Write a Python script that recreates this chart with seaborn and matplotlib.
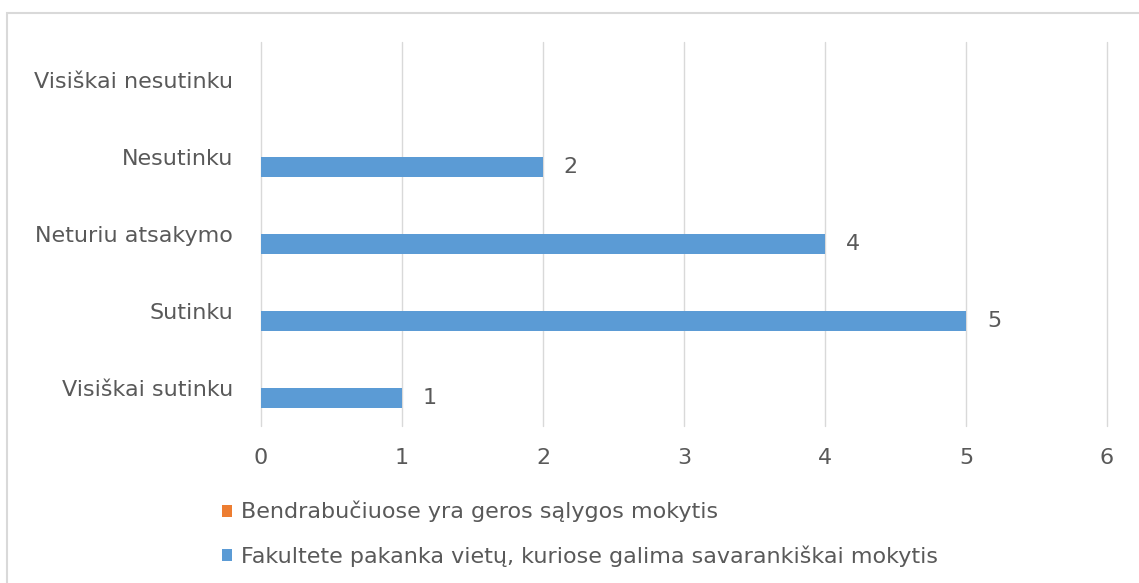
import matplotlib
matplotlib.use("Agg")
import matplotlib.pyplot as plt
import matplotlib.patches as mpatches
import seaborn as sns
import pandas as pd
import numpy as np

# categories top to bottom
categories = ["Visiškai nesutinku", "Nesutinku", "Neturiu atsakymo", "Sutinku", "Visiškai sutinku"]
series_names = ["Bendrabučiuose yra geros sąlygos mokytis",
                "Fakultete pakanka vietų, kuriose galima savarankiškai mokytis"]
bendrabutis = [0, 0, 0, 0, 0]          # empty series
fakultetas = [np.nan, 2, 4, 5, 1]
x_ticks = [0, 1, 2, 3, 4, 5, 6]

colors = ["#ED7D31", "#5B9BD5"]
text_color = "#595959"
grid_color = "#D9D9D9"
fs = 16

df = pd.DataFrame({
    "kategorija": categories * 2,
    "serija": [series_names[0]] * len(categories) + [series_names[1]] * len(categories),
    "reiksme": bendrabutis + fakultetas,
})
df["reiksme"] = df["reiksme"].fillna(0)

sns.set_style("white")
plt.rcParams["font.family"] = ["DejaVu Sans"]

fig = plt.figure(figsize=(11.39, 5.83), dpi=100)
ax = fig.add_axes([261 / 1139, 1 - 426 / 583, (1107 - 261) / 1139, (426 - 42) / 583])

sns.barplot(data=df, x="reiksme", y="kategorija", hue="serija",
            order=categories, hue_order=series_names, palette=colors,
            orient="h", width=0.52, linewidth=0, saturation=1, ax=ax,
            legend=True)

# value labels only for the non-empty series
blue = ax.containers[1]
labels = [f"{int(v)}" if v > 0 else "" for v in [b.get_width() for b in blue]]
ax.bar_label(blue, labels=labels, padding=15, fontsize=fs, color=text_color)

ax.set_xlim(0, 6)
ax.set_xticks(x_ticks)
ax.xaxis.grid(True, color=grid_color, linewidth=1.0)
for gl in ax.get_xgridlines():
    gl.set_clip_on(False)
ax.set_axisbelow(True)
ax.set_xlabel("")
ax.set_ylabel("")
for s in ax.spines.values():
    s.set_visible(False)
ax.tick_params(axis="x", length=0, pad=16, labelsize=fs, labelcolor=text_color)
ax.tick_params(axis="y", length=0, pad=20, labelsize=fs, labelcolor=text_color)

handles, lbls = ax.get_legend_handles_labels()
ax.get_legend().remove()
fig.legend(handles, lbls, loc="upper left", bbox_to_anchor=(202 / 1139, 1 - 481 / 583),
           frameon=False, ncol=1, fontsize=fs, labelcolor=text_color,
           handlelength=0.45, handleheight=0.45, handletextpad=0.4, labelspacing=1.05)

# outer chart border (cut off at right and bottom)
fig.patches.append(mpatches.Rectangle((7 / 1139, -0.05), 1.1, 1 - 13 / 583 + 0.05,
                                      transform=fig.transFigure, fill=False,
                                      edgecolor=grid_color, linewidth=1.5))

fig.savefig("out.png", dpi=100)
